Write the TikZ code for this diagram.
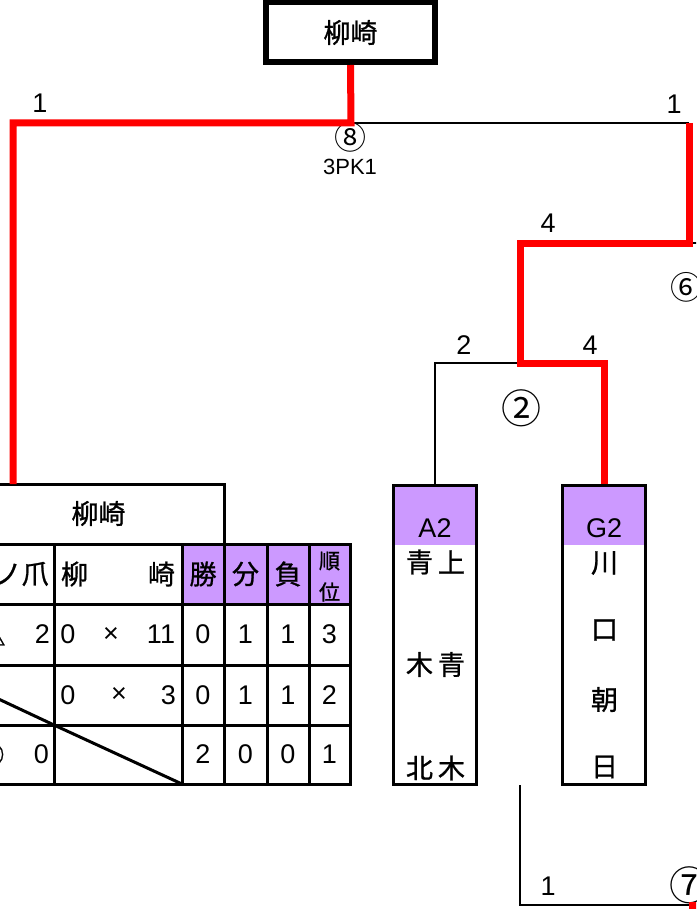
\documentclass[tikz,border=0pt]{standalone}
\usepackage{fontspec}
\setmainfont{Liberation Sans}
\newfontfamily\jp[FakeBold=1]{Noto Sans CJK JP}
\newfontfamily\jpmaru{Noto Sans CJK JP}
\definecolor{murasaki}{RGB}{204,153,255}

\begin{document}
\begin{tikzpicture}[x=1pt, y=-1pt,
    moji/.style={inner sep=0pt, font=\jp\fontsize{27}{30}\selectfont},
    kazu/.style={inner sep=0pt, font=\fontsize{27}{30}\selectfont},
    maru/.style={inner sep=0pt, font=\jpmaru\fontsize{#1}{#1}\selectfont},
    maru/.default=32,
    waku/.style={draw, line width=3pt},
    sen/.style={draw, line width=2.8pt},
    kachi/.style={draw=red, line width=7pt}]
    \useasboundingbox (0,0) rectangle (696,909);
    \clip (0,0) rectangle (696,909);

    % 優勝チーム
    \node[moji, draw, line width=5.5pt, minimum width=169pt, minimum height=59.5pt] (yusho) at (350.5,32.5) {柳崎};

    % 予選リーグの表（紫のセル）
    \fill[murasaki] (182,544) rectangle (350,604);
    \draw[waku, line cap=rect] (-80,484) -- (224,484);
    \draw[waku, line cap=rect] (224,484) -- (224,784);
    \foreach \x in {54,182,267,309,350}
        \draw[waku, line cap=rect] (\x,544) -- (\x,784);
    \foreach \y in {544,604,665,725,784}
        \draw[waku, line cap=rect] (-80,\y) -- (350,\y);
    \draw[waku] (-74,665) -- (54,725);
    \draw[waku] (54,725) -- (182,784);

    % 表の文字
    \node[moji] (lg) at (98.5,513.5) {柳崎};
    \node[moji, anchor=east] (tm1) at (49,574) {ノ爪};
    \node[moji] (tm2a) at (74.5,574) {柳};
    \node[moji] (tm2b) at (161.5,574) {崎};
    \node[moji] (hk) at (203,574) {勝};
    \node[moji] (hw) at (245.5,574) {分};
    \node[moji] (hm) at (288,574) {負};
    \node[moji, font=\jp\fontsize{21}{22}\selectfont] (hja) at (329.5,561) {順};
    \node[moji, font=\jp\fontsize{21}{22}\selectfont] (hjb) at (329.5,592) {位};
    % 対戦結果
    \node[moji] (ra0) at (-8,634.5) {△};
    \node[kazu] (ra1) at (42.5,634.5) {2};
    \node[kazu] (ra2) at (68,634.5) {0};
    \node[kazu] (ra3) at (111,634.5) {×};
    \node[kazu] (ra4) at (161,634.5) {11};
    \node[kazu] (rb2) at (68,695) {0};
    \node[kazu] (rb3) at (119,695) {×};
    \node[kazu] (rb4) at (168.5,695) {3};
    \node[moji] (rc0) at (-9,754.5) {○};
    \node[kazu] (rc1) at (41.5,754.5) {0};
    \foreach \r/\y/\a/\b/\c/\d in {1/634.5/0/1/1/3, 2/695/0/1/1/2, 3/754.5/2/0/0/1} {
        \node[kazu] (kachi\r) at (203,\y) {\a};
        \node[kazu] (wake\r) at (245.5,\y) {\b};
        \node[kazu] (make\r) at (288,\y) {\c};
        \node[kazu] (juni\r) at (329.5,\y) {\d};
    }

    % A2・G2 のチーム
    \fill[murasaki] (393.5,485) rectangle (476.5,545);
    \fill[murasaki] (562.5,485) rectangle (645.5,545);
    \node[waku, minimum width=83pt, minimum height=299.5pt] (A2) at (435,634.75) {};
    \node[waku, minimum width=83pt, minimum height=299.5pt] (G2) at (604,634.75) {};
    \node[kazu] (A2t) at (435,528.5) {A2};
    \node[kazu] (G2t) at (604,528.5) {G2};
    \node[moji] (a1) at (419.5,562) {青};
    \node[moji] (a2) at (451.5,562) {上};
    \node[moji] (a3) at (419.5,664.5) {木};
    \node[moji] (a4) at (451.5,664.5) {青};
    \node[moji] (a5) at (419.5,768) {北};
    \node[moji] (a6) at (451.5,768) {木};
    \node[moji] (g1) at (604.5,563) {川};
    \node[moji] (g2) at (604.5,630) {口};
    \node[moji] (g3) at (604.5,699.5) {朝};
    \node[moji] (g4) at (604.5,767) {日};

    % 得点と試合番号
    \node[kazu] (s1) at (40,103) {1};
    \node[kazu] (s2) at (674,104) {1};
    \node[maru] (m8) at (350.5,137.5) {⑧};
    \node[kazu, font=\fontsize{22}{24}\selectfont] (pk) at (350,167) {3PK1};
    \node[kazu] (s3) at (548,223) {4};
    \node[maru] (m6) at (686,287) {⑥};
    \node[kazu] (s4) at (464,345) {2};
    \node[kazu] (s5) at (590,345) {4};
    \node[maru=40] (m2) at (521,408.5) {②};
    \node[kazu] (s6) at (548,886) {1};
    \node[maru=40] (m7) at (689,885) {⑦};

    % 分かれ目
    \coordinate (j8) at (351,123);
    \coordinate (jL) at (13,123);
    \coordinate (gA) at (13,484);
    \coordinate (j6) at (689,123);
    \coordinate (j6b) at (689,243);
    \coordinate (e6) at (700,243);
    \coordinate (j4) at (520,243);
    \coordinate (j2) at (520,363);
    \coordinate (j2L) at (435,363);
    \coordinate (j2R) at (604,363);
    \coordinate (j7t) at (520,785);
    \coordinate (j7) at (520,905);
    \coordinate (j7r) at (689,905);
    \coordinate (e7) at (700,905);

    % 黒の線
    \draw[sen] (j8) -- (j6);
    \draw[sen] (j6b) -- (e6);
    \draw[sen] (j2) -- (j2L) -- (A2.north);
    \draw[sen] (j7t) -- (j7) -- (j7r);
    % 勝ち上がり（赤）
    \draw[kachi] (yusho.south) -- (j8) -- (jL) -- (gA);
    \draw[kachi] (j6) -- (j6b) -- (j4) -- (j2) -- (j2R) -- (G2.north);
    \draw[kachi] (j7r) -- (e7);
\end{tikzpicture}
\end{document}
